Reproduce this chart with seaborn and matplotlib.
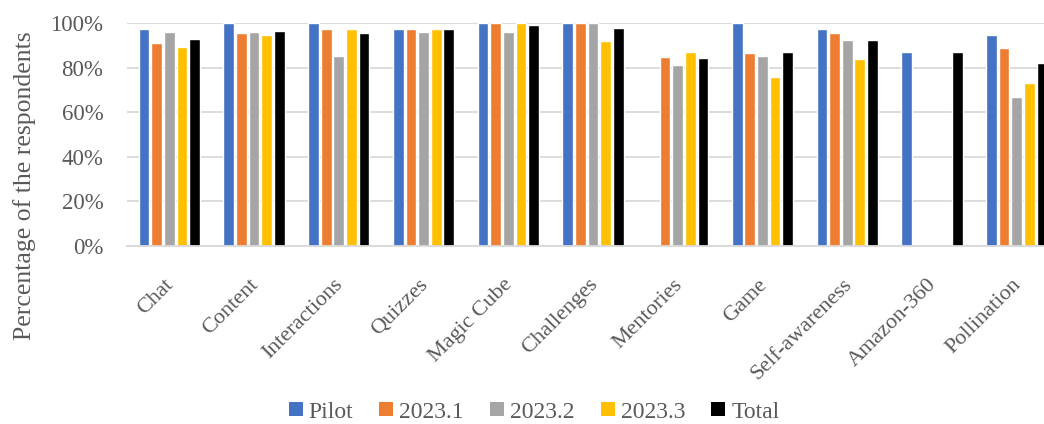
import matplotlib
matplotlib.use("Agg")
import matplotlib.pyplot as plt
import matplotlib.transforms as mtransforms
import seaborn as sns
import pandas as pd
from matplotlib.ticker import PercentFormatter
from matplotlib.patches import Patch

categories = ["Chat", "Content", "Interactions", "Quizzes", "Magic Cube", "Challenges",
              "Mentories", "Game", "Self-awareness", "Amazon-360", "Pollination"]
series_names = ["Pilot", "2023.1", "2023.2", "2023.3", "Total"]
pilot = [97.3, 100, 100, 97.3, 100, 100, 0, 100, 97.3, 86.8, 94.8]
y2023_1 = [91.1, 95.4, 97.5, 97.5, 100, 100, 84.6, 86.7, 95.6, 0, 89.0]
y2023_2 = [96.1, 96.1, 85.0, 96.1, 96.1, 100, 81.3, 85.0, 92.6, 0, 66.8]
y2023_3 = [89.3, 94.5, 97.3, 97.3, 100, 92.0, 86.8, 75.7, 83.7, 0, 73.0]
total = [93.0, 96.4, 95.6, 97.3, 99.1, 97.9, 84.3, 86.8, 92.4, 86.8, 82.2]
colors = ["#4472C4", "#ED7D31", "#A5A5A5", "#FFC000", "#000000"]

rows = []
for name, vals in zip(series_names, [pilot, y2023_1, y2023_2, y2023_3, total]):
    for c, v in zip(categories, vals):
        rows.append({"Feature": c, "Cohort": name, "Value": v})
df = pd.DataFrame(rows)

sns.set_theme(style="white")
plt.rcParams["font.family"] = ["Liberation Serif", "DejaVu Serif"]
text_color = "#595959"

W, H = 1044, 424
fig = plt.figure(figsize=(W / 100, H / 100), dpi=100)
ax = fig.add_axes([127 / W, 1 - 246 / H, (1059 - 127) / W, (246 - 23) / H])

sns.barplot(data=df, x="Feature", y="Value", hue="Cohort", order=categories,
            hue_order=series_names, palette=colors, width=0.745, gap=0.15,
            saturation=1, ax=ax, legend=False, errorbar=None)

ax.set_ylim(0, 100)
ax.set_xlim(-0.5, len(categories) - 0.5)
ax.set_yticks([0, 20, 40, 60, 80, 100])
ax.yaxis.set_major_formatter(PercentFormatter(100, decimals=0))
ax.grid(axis="y", color="#D9D9D9", linewidth=1.3)
ax.set_axisbelow(True)
for s in ["top", "right", "left"]:
    ax.spines[s].set_visible(False)
ax.spines["bottom"].set_color("#D9D9D9")
ax.spines["bottom"].set_linewidth(1.3)
ax.tick_params(axis="y", length=0, labelsize=16.5, colors=text_color, pad=17)
ax.tick_params(axis="x", length=0, labelsize=16, colors=text_color, pad=21)
ax.set_xlabel("")
ax.set_ylabel("")
ax.set_xticks(range(len(categories)))
ax.set_xticklabels(categories, rotation=45, ha="right", rotation_mode="anchor")
offset = mtransforms.ScaledTranslation(-5 / 100, 0, fig.dpi_scale_trans)
for lbl in ax.get_xticklabels():
    lbl.set_color(text_color)
    lbl.set_transform(lbl.get_transform() + offset)

fig.text(25 / W, 1 - 186 / H, "Percentage of the respondents", rotation=90,
         ha="center", va="center", fontsize=18.5, color=text_color)

handles = [Patch(facecolor=c, edgecolor="none") for c in colors]
fig.legend(handles, series_names, loc="center", bbox_to_anchor=(534 / W, 1 - 412 / H),
           ncol=5, frameon=False, fontsize=17, handlelength=0.6, handleheight=0.55,
           columnspacing=1.1, handletextpad=0.25, labelcolor=text_color,
           borderpad=0, borderaxespad=0)

fig.savefig("out.png", dpi=100)
